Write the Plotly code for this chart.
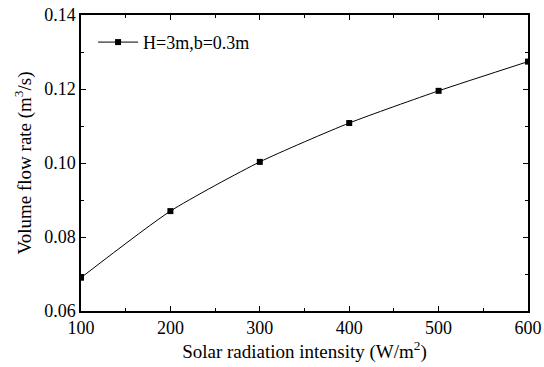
import plotly.graph_objects as go

radiation = [100, 200, 300, 400, 500, 600]
flow_rate = [0.0690, 0.0870, 0.1003, 0.1108, 0.1195, 0.1274]
series_name = "H=3m,b=0.3m"

font_family = "Times New Roman"

fig = go.Figure()
fig.add_trace(go.Scatter(
    x=radiation, y=flow_rate, mode="lines+markers", name=series_name,
    line=dict(color="black", width=1.0, shape="spline", smoothing=0.6),
    marker=dict(symbol="square", size=6, color="black"),
))

axis_common = dict(
    showline=True, linecolor="black", linewidth=1.5, mirror="ticks",
    ticks="inside", ticklen=5, tickwidth=1.2, tickcolor="black",
    showgrid=False, zeroline=False, automargin=False,
    tickfont=dict(family=font_family, size=18, color="black"),
    minor=dict(ticks="inside", ticklen=3, tickwidth=1, tickcolor="black"),
)

fig.update_xaxes(
    range=[100, 600], dtick=100, tick0=100,
    title=dict(text="Solar radiation intensity (W/m<sup>2</sup>)",
               font=dict(family=font_family, size=19, color="black"), standoff=2),
    **axis_common,
)
fig.update_yaxes(
    range=[0.06, 0.14], dtick=0.02, tick0=0.06, tickformat=".2f",
    title=dict(text="Volume flow rate (m<sup>3</sup>/s)",
               font=dict(family=font_family, size=19, color="black"), standoff=8),
    **axis_common,
)
fig.update_xaxes(minor=dict(dtick=50))
fig.update_yaxes(minor=dict(dtick=0.01))

fig.update_layout(
    width=544, height=367,
    margin=dict(l=81, r=16, t=15, b=56),
    paper_bgcolor="white", plot_bgcolor="white",
    showlegend=True,
    legend=dict(x=0.027, y=0.97, xanchor="left", yanchor="top",
                bgcolor="rgba(0,0,0,0)", itemwidth=40,
                font=dict(family=font_family, size=18, color="black")),
)

fig.write_html("out.html")
